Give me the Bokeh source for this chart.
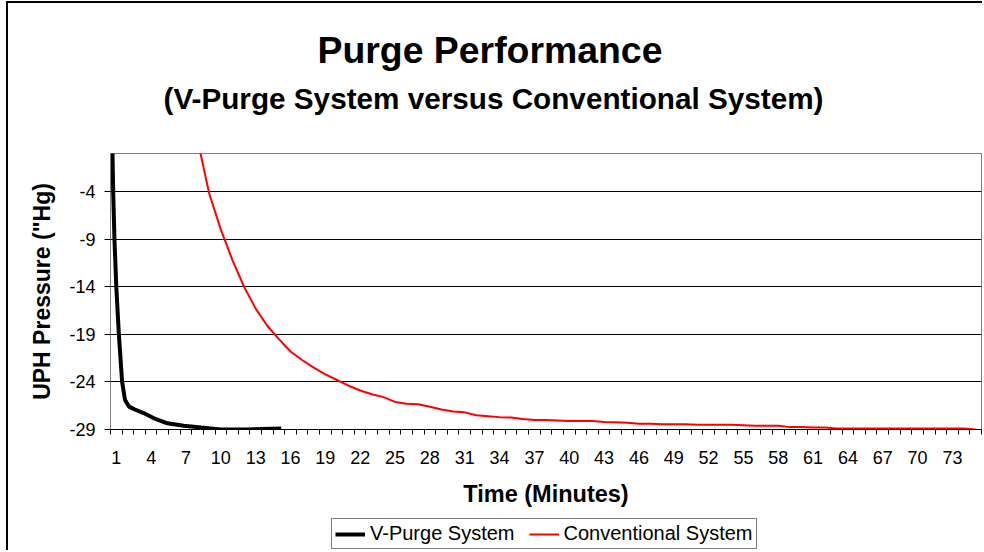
from bokeh.plotting import figure
from bokeh.layouts import column
from bokeh.models import Range1d, FixedTicker, Legend, LegendItem, Title
from bokeh.embed import file_html
from bokeh.resources import INLINE

# ---------------- data ----------------
title_text = "Purge Performance"
subtitle_text = "(V-Purge System versus Conventional System)"
x_title = "Time (Minutes)"
y_title = 'UPH Pressure ("Hg)'
series_names = ["V-Purge System", "Conventional System"]

x_tick_values = list(range(1, 74, 3))          # 1, 4, 7, ... 73
x_categories = list(range(1, 76))              # minutes 1..75
y_tick_values = [-29, -24, -19, -14, -9, -4]

vpurge_time = [0.62, 0.67, 0.73, 0.84, 1.0, 1.22, 1.5, 1.75, 2.1, 2.6,
               3.4, 4.2, 5.4, 6.8, 8.3, 10.0, 11.0, 12.0, 13.5, 15.2]
vpurge_pressure = [1.0, 0.1, -4.0, -9.0, -14.0, -19.0, -24.0, -25.9, -26.6, -26.9,
                   -27.3, -27.8, -28.35, -28.6, -28.8, -29.0, -29.0, -29.0, -28.95, -28.9]

conv_time = list(range(8, 76))
conv_pressure = [1.4, -4.2, -8.0, -11.2, -14.0, -16.3, -18.1, -19.5, -20.8, -21.7,
                 -22.5, -23.2, -23.8, -24.4, -24.9, -25.3, -25.6, -26.1, -26.3, -26.35,
                 -26.6, -26.9, -27.1, -27.2, -27.5, -27.6, -27.7, -27.75, -27.9, -28.0,
                 -28.0, -28.05, -28.1, -28.1, -28.1, -28.2, -28.25, -28.3, -28.4, -28.4,
                 -28.45, -28.45, -28.45, -28.5, -28.5, -28.5, -28.5, -28.55, -28.6, -28.6,
                 -28.6, -28.75, -28.75, -28.8, -28.8, -28.9, -28.9, -28.9, -28.9, -28.9,
                 -28.9, -28.9, -28.9, -28.9, -28.9, -28.9, -28.9, -29.0]

FONT = "Liberation Sans"
VP_STYLE = dict(line_color="black", line_width=4)
CONV_STYLE = dict(line_color="#FF0000", line_width=2)

# ---------------- main chart ----------------
p = figure(width=976, height=510, output_backend="svg", toolbar_location=None,
           x_range=Range1d(x_categories[0] - 0.5, x_categories[-1] + 0.5),
           y_range=Range1d(-29, 0),
           min_border_left=102, min_border_right=3, min_border_top=150, min_border_bottom=84)
p.title = None
p.background_fill_color = "white"
p.border_fill_color = "white"
p.outline_line_color = "#808080"
p.outline_line_width = 1

p.line(vpurge_time, vpurge_pressure, **VP_STYLE)
p.line(conv_time, conv_pressure, **CONV_STYLE)

# x axis
xa = p.xaxis[0]
xa.ticker = FixedTicker(ticks=x_tick_values,
                        minor_ticks=[c - 0.5 for c in x_categories] + [x_categories[-1] + 0.5])
xa.major_tick_out = 0
xa.major_tick_in = 0
xa.minor_tick_out = 5
xa.minor_tick_in = 0
xa.minor_tick_line_color = "black"
xa.axis_line_color = "black"
xa.major_label_standoff = 16
xa.major_label_text_font = FONT
xa.major_label_text_font_size = "18px"
xa.major_label_text_color = "black"
xa.axis_label = x_title
xa.axis_label_text_font = FONT
xa.axis_label_text_font_size = "23.5px"
xa.axis_label_text_font_style = "bold"
xa.axis_label_text_color = "black"
xa.axis_label_standoff = 14

# y axis
ya = p.yaxis[0]
ya.ticker = FixedTicker(ticks=y_tick_values)
ya.major_label_overrides = {v: str(v) for v in y_tick_values}
ya.major_tick_out = 6
ya.major_tick_in = 0
ya.minor_tick_out = 0
ya.minor_tick_in = 0
ya.major_tick_line_color = "black"
ya.axis_line_color = "#808080"
ya.major_label_standoff = 9
ya.major_label_text_font = FONT
ya.major_label_text_font_size = "18px"
ya.major_label_text_color = "black"
ya.axis_label = y_title
ya.axis_label_text_font = FONT
ya.axis_label_text_font_size = "23px"
ya.axis_label_text_font_style = "bold"
ya.axis_label_text_color = "black"
ya.axis_label_standoff = 11

p.xgrid.visible = False
p.ygrid.grid_line_color = "black"
p.ygrid.grid_line_width = 1

# titles (stacked above the plot frame)
sub = Title(text=subtitle_text, align="left", offset=53, standoff=78,
            text_font=FONT, text_font_size="29.7px", text_font_style="bold", text_color="black")
main = Title(text=title_text, align="left", offset=207, standoff=-60,
             text_font=FONT, text_font_size="37.4px", text_font_style="bold", text_color="black")
p.add_layout(sub, "above")
p.add_layout(main, "above")

# ---------------- legend strip (same series, plotted out of view) ----------------
q = figure(width=976, height=39, output_backend="svg", toolbar_location=None,
           x_axis_location=None, y_axis_location=None, min_border=0,
           x_range=Range1d(x_categories[0] - 0.5, x_categories[-1] + 0.5),
           y_range=Range1d(100, 101))
q.title = None
q.grid.visible = False
q.outline_line_color = None
q.background_fill_color = "white"
q.border_fill_color = "white"
k1 = q.line(vpurge_time, vpurge_pressure, **VP_STYLE)
k2 = q.line(conv_time, conv_pressure, **CONV_STYLE)

legend = Legend(items=[LegendItem(label=series_names[0], renderers=[k1]),
                       LegendItem(label=series_names[1], renderers=[k2])],
                orientation="horizontal", location=(221, 3), margin=0,
                padding=3, spacing=14, glyph_width=30, glyph_height=18, label_standoff=5,
                label_text_font=FONT, label_text_font_size="20px", label_text_color="black",
                border_line_color="black", border_line_width=1,
                background_fill_color="white", background_fill_alpha=1.0)
q.add_layout(legend)

layout = column(p, q, spacing=0, margin=(3, 0, 0, 8),
                styles={"box-shadow": "-2px -2px 0 0 #000000"})

open("out.html", "w").write(file_html(layout, INLINE))
